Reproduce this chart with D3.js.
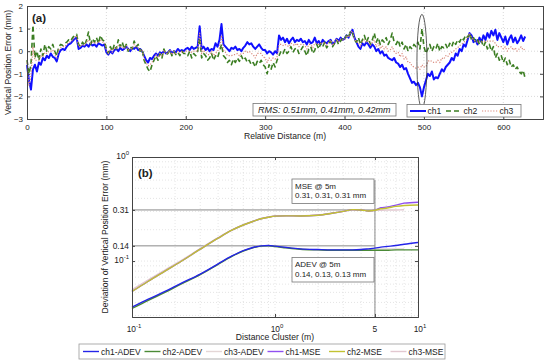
<!DOCTYPE html>
<html><head><meta charset="utf-8">
<script src="https://cdn.jsdelivr.net/npm/d3@7"></script>
<style>
body{margin:0;background:#fff;}
text{font-family:"Liberation Sans",Arial,sans-serif;fill:#222;}
</style></head><body><div id="chart"></div>
<script>
const WIDTH = 550, HEIGHT = 364;

// ---- panel (a): vertical position error, one value every 2.5 m
const STEP = 2.5
const ch1 = [
 -0.6,-1.3,-1.7,-0.8,-0.6,-0.9,-0.5,-0.6,-0.3,-0.4,-0.2,-0.3,-0.1,-0.25,-0.3,-0.45,-0.1,0.05,0.1,0.05,
 0.2,0.3,0.35,0.45,0.55,0.6,0.1,0.15,0.25,0.2,0.3,0.2,0.35,0.25,0.3,0.2,0.35,0.3,0.25,0.3,
 -0.05,-0.15,0.0,-0.1,0.05,0.1,0.0,0.15,0.05,0.1,0.2,0.1,0.0,0.15,0.1,0.2,0.05,0.1,0.0,-0.2,
 -0.4,-0.5,-0.3,-0.35,-0.2,-0.1,-0.2,-0.05,-0.1,0.0,-0.1,-0.05,0.05,-0.1,0.0,-0.05,0.1,0.0,0.05,0.0,
 0.1,0.15,0.05,0.2,0.1,0.15,0.2,1.1,0.1,0.2,0.05,0.15,0.0,0.1,0.05,0.35,0.2,0.5,1.2,0.3,
 0.2,0.1,0.0,0.15,0.1,0.2,0.05,0.1,0.0,0.15,0.25,0.4,0.3,0.35,0.2,0.1,0.2,0.3,0.15,0.05,
 0.05,-0.1,0.0,-0.05,-0.15,0.0,-0.1,0.7,0.5,0.6,0.4,0.55,0.35,0.5,0.6,0.4,0.5,0.45,0.55,0.4,
 0.45,0.3,0.5,0.35,0.4,0.6,0.35,0.45,0.3,0.5,0.4,0.35,0.45,0.5,0.3,0.4,0.55,0.45,0.6,0.5,
 0.55,0.7,0.6,0.8,0.95,0.6,0.4,0.2,0.1,0.35,0.25,0.4,0.3,0.15,0.3,0.2,0.0,0.1,-0.1,0.0,
 -0.2,-0.15,-0.3,-0.35,-0.4,-0.3,-0.5,-0.55,-0.7,-0.6,-0.8,-0.75,-1.0,-1.2,-1.4,-1.35,-1.5,-1.4,-1.6,-2.0,
 -1.6,-1.3,-1.0,-1.1,-0.9,-1.25,-1.15,-1.2,-1.0,-0.8,-0.9,-0.7,-0.6,-0.5,-0.3,-0.4,-0.1,-0.2,0.1,0.0,
 0.3,0.2,0.5,0.8,0.7,0.4,0.5,0.3,0.6,0.4,0.7,0.5,0.8,0.6,0.9,0.7,0.95,0.5,0.8,0.6,
 0.4,0.65,0.3,0.55,0.7,0.4,0.6,0.35,0.5,0.7,0.45,0.65]
const ch2 = [
 -0.4,-1.0,-0.6,1.15,-0.3,0.0,-0.4,0.1,-0.2,0.3,0.0,0.2,0.1,0.3,0.0,-0.2,0.2,0.3,0.25,0.35,
 0.4,0.5,0.45,0.6,0.7,0.75,0.3,0.2,0.4,0.25,0.5,0.85,0.3,0.55,0.4,0.6,0.35,0.7,0.5,0.45,
 0.1,-0.1,0.2,0.0,0.3,0.1,0.5,0.2,0.4,0.1,0.3,0.0,0.2,0.1,0.45,0.2,0.3,0.0,0.1,-0.4,
 -0.6,-0.8,-0.9,-0.6,-0.4,-0.2,-0.4,-0.1,-0.3,0.1,-0.15,-0.1,0.05,-0.2,0.0,-0.15,-0.05,-0.2,0.0,-0.1,
 -0.1,-0.2,0.0,-0.3,-0.1,-0.2,0.0,0.6,-0.3,-0.1,-0.2,-0.4,-0.3,-0.1,-0.4,-0.2,-0.3,0.0,0.3,-0.2,
 -0.3,-0.5,-0.4,-0.6,-0.35,-0.5,-0.3,-0.45,-0.2,-0.4,-0.3,-0.5,-0.4,-0.6,-0.5,-0.7,-0.45,-0.55,-0.4,-0.6,
 -0.7,-1.0,-0.6,-0.8,-0.5,-0.7,-0.4,-0.2,0.0,-0.1,0.1,-0.1,0.0,0.2,-0.05,0.1,0.15,-0.1,0.05,0.2,
 0.0,-0.2,0.1,0.2,-0.1,0.05,0.3,0.1,0.35,0.2,0.4,0.15,0.3,0.45,0.2,0.35,0.5,0.3,0.45,0.55,
 0.5,0.7,0.6,0.9,0.8,0.5,0.4,0.6,0.3,0.5,0.7,0.4,0.6,0.3,0.5,0.8,0.4,0.6,0.3,0.5,
 0.4,0.6,0.3,0.5,0.8,0.4,0.3,0.5,0.2,0.4,0.1,0.3,0.0,0.2,0.1,0.3,0.2,0.4,0.1,1.0,
 0.2,-0.1,0.1,0.3,0.0,0.2,0.1,0.35,0.0,0.2,0.15,0.3,0.1,0.35,0.2,0.45,0.3,0.5,0.4,0.6,
 0.5,0.7,0.6,0.8,0.5,0.6,0.4,0.5,0.3,0.45,0.2,0.4,0.1,0.3,0.0,0.2,-0.3,-0.1,-0.4,-0.2,
 -0.5,-0.3,-0.6,-0.4,-0.7,-0.6,-0.8,-0.7,-0.9,-1.0,-0.85,-1.2]
const ch3 = [
 -0.5,-1.5,-1.1,0.2,-0.4,-0.4,-0.4,-0.2,-0.25,-0.05,-0.1,0.0,0.0,0.05,-0.15,-0.3,0.05,0.15,0.2,0.2,
 0.3,0.4,0.4,0.5,0.6,0.7,0.2,0.2,0.3,0.25,0.4,0.5,0.35,0.4,0.35,0.4,0.35,0.5,0.4,0.4,
 0.05,-0.1,0.1,-0.05,0.15,0.1,0.25,0.2,0.2,0.1,0.25,0.05,0.1,0.1,0.3,0.2,0.15,0.05,0.05,-0.3,
 -0.5,-0.65,-0.6,-0.5,-0.3,-0.15,-0.3,-0.1,-0.2,0.05,-0.1,-0.1,0.05,-0.15,0.0,-0.1,0.0,-0.1,0.0,-0.05,
 0.0,0.0,0.0,-0.05,0.0,0.0,0.0,0.8,-0.1,0.05,-0.05,-0.15,-0.15,0.0,-0.2,-0.1,0.0,0.15,0.7,0.05,
 -0.05,-0.2,-0.2,-0.2,-0.15,-0.15,-0.1,-0.2,-0.1,-0.1,0.0,-0.05,0.0,-0.1,-0.15,-0.3,-0.1,-0.1,-0.1,-0.25,
 -0.3,-0.5,-0.3,-0.4,-0.3,-0.35,-0.25,0.3,0.3,0.25,0.3,0.25,0.2,0.35,0.3,0.25,0.35,0.2,0.3,0.3,
 0.25,0.1,0.3,0.3,0.15,0.35,0.35,0.3,0.35,0.35,0.4,0.25,0.4,0.5,0.25,0.4,0.55,0.4,0.55,0.5,
 0.5,0.7,0.6,0.85,0.9,0.55,0.4,0.4,0.2,0.45,0.5,0.4,0.45,0.25,0.4,0.5,0.2,0.35,0.1,0.25,
 0.1,0.2,0.0,0.05,0.2,0.0,-0.1,-0.05,-0.25,-0.1,-0.35,-0.25,-0.5,-0.5,-0.65,-0.7,-0.75,-0.7,-0.8,-0.6,
 -0.7,-0.7,-0.45,-0.4,-0.45,-0.5,-0.5,-0.4,-0.5,-0.3,-0.35,-0.2,-0.25,-0.1,-0.05,0.0,0.1,0.15,0.25,0.3,
 0.4,0.45,0.55,0.8,0.6,0.5,0.45,0.4,0.45,0.4,0.45,0.45,0.45,0.45,0.45,0.45,0.35,0.2,0.2,0.2,
 0.1,0.2,0.0,0.15,0.2,0.05,0.15,0.0,0.1,0.2,0.05,0.1]
const seriesA = ["ch1", "ch2", "ch3"]
const xTicksA = [0, 100, 200, 300, 400, 500, 600]
const yTicksA = [-3, -2, -1, 0, 1, 2]
const rmsLabel = "RMS: 0.51mm, 0.41mm, 0.42mm"
const circledAt = 497.5

// ---- panel (b): deviation vs distance cluster
const cluster = [0.1,0.13,0.17,0.22,0.3,0.4,0.5,0.6,0.7,0.8,0.9,1,1.2,1.5,2,2.5,3,3.5,4,4.5,5,5.5,6,7,8,10]
const adev1 = [0.036,0.043,0.051,0.061,0.075,0.094,0.112,0.126,0.135,0.140,0.141,0.139,0.135,0.131,0.129,0.128,0.128,0.128,0.129,0.131,0.133,0.136,0.138,0.141,0.145,0.151]
const adev2 = [0.035,0.042,0.050,0.060,0.074,0.093,0.111,0.125,0.134,0.139,0.140,0.138,0.134,0.130,0.128,0.127,0.127,0.127,0.127,0.127,0.127,0.127,0.127,0.128,0.128,0.128]
const adev3 = [0.0355,0.0425,0.0505,0.0605,0.0745,0.0935,0.1115,0.1255,0.1345,0.1395,0.1405,0.1385,0.1345,0.1305,0.1285,0.1275,0.1275,0.128,0.129,0.130,0.131,0.131,0.131,0.131,0.131,null]
const mse1 = [0.051,0.064,0.080,0.099,0.130,0.166,0.198,0.222,0.240,0.255,0.264,0.270,0.272,0.271,0.276,0.288,0.300,0.312,0.310,0.303,0.308,0.325,0.330,0.345,0.360,0.368]
const mse2 = [0.051,0.064,0.080,0.099,0.130,0.166,0.198,0.222,0.240,0.255,0.264,0.270,0.272,0.271,0.276,0.288,0.300,0.312,0.310,0.303,0.308,0.318,0.322,0.335,0.342,0.346]
const mse3 = [0.053,0.066,0.082,0.101,0.132,0.168,0.199,0.223,0.241,0.256,0.265,0.271,0.273,0.272,0.277,0.289,0.301,0.310,0.309,0.305,0.307,0.308,0.309,0.310,0.311,null]
const seriesB = ["ch1-ADEV", "ch2-ADEV", "ch3-ADEV", "ch1-MSE", "ch2-MSE", "ch3-MSE"]
const xTicksB = [0.1, 1, 5, 10]
const xLabelsB = [["10","-1"], ["10","0"], ["5",""], ["10","1"]]
const yTicksB = [1, 0.31, 0.14, 0.1]
const yLabelsB = [["10","0"], ["0.31",""], ["0.14",""], ["10","-1"]]
const markX = 5, markMSE = 0.31, markADEV = 0.14, markTop = 0.6
const mseNote = ["MSE @ 5m", "0.31, 0.31, 0.31 mm"]
const adevNote = ["ADEV @ 5m", "0.14, 0.13, 0.13 mm"]

const colorA = {ch1: "#1010ff", ch2: "#3b7d22", ch3: "#d9897c"}
const dashA = {ch1: null, ch2: "5,3", ch3: "1.2,1.6"}
const widthA = {ch1: 2, ch2: 1.6, ch3: 1.2}
const colorB = {"ch1-ADEV": "#2424e8", "ch2-ADEV": "#4a8a36", "ch3-ADEV": "#e4d6d6",
                "ch1-MSE": "#9050f0", "ch2-MSE": "#c2c232", "ch3-MSE": "#e2c8d0"}

const svg = d3.select("#chart").append("svg").attr("width", WIDTH).attr("height", HEIGHT)

// ================= panel (a)
const xA = d3.scaleLinear().domain([0, 650]).range([27, 543])
const yA = d3.scaleLinear().domain([-3, 2]).range([119, 6])
const gA = svg.append("g")

gA.append("rect").attr("x", xA(0)).attr("y", yA(2)).attr("width", xA(650) - xA(0)).attr("height", yA(-3) - yA(2)).attr("fill", "#fff")

// grid
gA.selectAll(".gx").data(xTicksA.slice(1)).enter().append("line")
  .attr("x1", d => xA(d)).attr("x2", d => xA(d)).attr("y1", yA(2)).attr("y2", yA(-3))
  .attr("stroke", "#c8c8c8").attr("stroke-width", 0.7).attr("stroke-dasharray", "1,2")
gA.selectAll(".gy").data(yTicksA.slice(1, -1)).enter().append("line")
  .attr("x1", xA(0)).attr("x2", xA(650)).attr("y1", d => yA(d)).attr("y2", d => yA(d))
  .attr("stroke", "#c8c8c8").attr("stroke-width", 0.7).attr("stroke-dasharray", "1,2")

const lineA = d3.line().x((d, i) => xA(i * STEP)).y(d => yA(d))
const dataA = {ch1: ch1, ch2: ch2, ch3: ch3}
seriesA.forEach(s => {
  gA.append("path").datum(dataA[s]).attr("d", lineA).attr("fill", "none")
    .attr("stroke", colorA[s]).attr("stroke-width", widthA[s])
    .attr("stroke-dasharray", dashA[s]).attr("stroke-linejoin", "round")
})

// circled dip
gA.append("ellipse").attr("cx", xA(circledAt)).attr("cy", yA(-0.45)).attr("rx", 5).attr("ry", 47)
  .attr("fill", "none").attr("stroke", "#333").attr("stroke-width", 0.8)

// axes
const axA_b = d3.axisBottom(xA).tickValues(xTicksA).tickSize(-3).tickPadding(5)
const axA_l = d3.axisLeft(yA).tickValues(yTicksA).tickSize(-3).tickPadding(4).tickFormat(d3.format("d"))
gA.append("g").attr("transform", "translate(0," + yA(-3) + ")").call(axA_b)
gA.append("g").attr("transform", "translate(" + xA(0) + ",0)").call(axA_l)
gA.append("g").attr("transform", "translate(0," + yA(2) + ")").call(d3.axisTop(xA).tickValues(xTicksA).tickSize(-3).tickFormat(""))
gA.append("g").attr("transform", "translate(" + xA(650) + ",0)").call(d3.axisRight(yA).tickValues(yTicksA).tickSize(-3).tickFormat(""))
gA.selectAll(".domain").attr("stroke", "#444")
gA.selectAll(".tick line").attr("stroke", "#444")
gA.selectAll(".tick text").attr("font-size", 8).attr("fill", "#222").attr("font-family", "Liberation Sans, Arial, sans-serif")

gA.append("text").attr("x", (xA(0) + xA(650)) / 2).attr("y", 139).attr("text-anchor", "middle").attr("font-size", 8.6).text("Relative Distance (m)")
gA.append("text").attr("transform", "rotate(-90)").attr("x", -(yA(2) + yA(-3)) / 2).attr("y", 11)
  .attr("text-anchor", "middle").attr("font-size", 8.6).text("Vertical Position Error (mm)")
gA.append("text").attr("x", 32).attr("y", 22).attr("font-size", 11.5).attr("font-weight", "bold").text("(a)")

// RMS box
gA.append("rect").attr("x", 253).attr("y", 103.5).attr("width", 143).attr("height", 12.5).attr("fill", "#fff").attr("stroke", "#777").attr("stroke-width", 0.8)
gA.append("text").attr("x", 258).attr("y", 112.5).attr("font-size", 9).attr("font-style", "italic").text(rmsLabel)

// legend (a)
const legA = gA.append("g").attr("transform", "translate(407,104.5)")
legA.append("rect").attr("width", 114).attr("height", 12.5).attr("fill", "#fff").attr("stroke", "#777").attr("stroke-width", 0.8)
seriesA.forEach((s, i) => {
  const row = legA.append("g").attr("transform", "translate(" + (3 + i * 36) + ",0)")
  row.append("line").attr("x1", 0).attr("x2", 16).attr("y1", 6.5).attr("y2", 6.5)
    .attr("stroke", colorA[s]).attr("stroke-width", widthA[s]).attr("stroke-dasharray", dashA[s])
  row.append("text").attr("x", 17.5).attr("y", 9.8).attr("font-size", 8.6).text(s)
})

// ================= panel (b)
const xB = d3.scaleLog().domain([0.1, 10]).range([132, 418])
const yB = d3.scaleLog().domain([0.029, 1]).range([317, 157])
const gB = svg.append("g")

// log grid
const minorX = []
;[0.1, 1].forEach(dec => { for (let k = 1; k <= 9; k++) minorX.push(dec * k) })
const minorY = []
;[0.01, 0.1].forEach(dec => { for (let k = 1; k <= 9; k++) { const v = dec * k; if (v > 0.029 && v < 1) minorY.push(v) } })
gB.selectAll(".mx").data(minorX.slice(1)).enter().append("line")
  .attr("x1", d => xB(d)).attr("x2", d => xB(d)).attr("y1", yB(1)).attr("y2", yB(0.029))
  .attr("stroke", "#d4d4d4").attr("stroke-width", 0.6).attr("stroke-dasharray", "1,2")
gB.selectAll(".my").data(minorY).enter().append("line")
  .attr("x1", xB(0.1)).attr("x2", xB(10)).attr("y1", d => yB(d)).attr("y2", d => yB(d))
  .attr("stroke", "#d4d4d4").attr("stroke-width", 0.6).attr("stroke-dasharray", "1,2")

// reference marks at 5 m
gB.append("line").attr("x1", xB(0.1)).attr("x2", xB(markX)).attr("y1", yB(markMSE)).attr("y2", yB(markMSE)).attr("stroke", "#8a8a8a").attr("stroke-width", 1)
gB.append("line").attr("x1", xB(0.1)).attr("x2", xB(markX)).attr("y1", yB(markADEV)).attr("y2", yB(markADEV)).attr("stroke", "#8a8a8a").attr("stroke-width", 1)
gB.append("line").attr("x1", xB(markX)).attr("x2", xB(markX)).attr("y1", yB(0.029)).attr("y2", yB(markTop)).attr("stroke", "#8a8a8a").attr("stroke-width", 1)

const lineB = d3.line().defined(d => d[1] != null).x(d => xB(d[0])).y(d => yB(d[1])).curve(d3.curveMonotoneX)
const dataB = {"ch1-ADEV": adev1, "ch2-ADEV": adev2, "ch3-ADEV": adev3, "ch1-MSE": mse1, "ch2-MSE": mse2, "ch3-MSE": mse3}
;["ch3-ADEV", "ch2-ADEV", "ch1-ADEV", "ch3-MSE", "ch1-MSE", "ch2-MSE"].forEach(s => {
  gB.append("path").datum(cluster.map((c, i) => [c, dataB[s][i]])).attr("d", lineB)
    .attr("fill", "none").attr("stroke", colorB[s]).attr("stroke-width", 1.4)
})

// notes
function note(lines, y0) {
  gB.append("rect").attr("x", 292).attr("y", y0).attr("width", 82).attr("height", 24.5).attr("fill", "#fff").attr("stroke", "#777").attr("stroke-width", 0.8)
  lines.forEach((t, i) => gB.append("text").attr("x", 295).attr("y", y0 + 9.5 + i * 9.5).attr("font-size", 8).text(t))
}
note(mseNote, 179)
note(adevNote, 257.5)

// axes
gB.append("g").attr("transform", "translate(0," + yB(0.029) + ")").call(d3.axisBottom(xB).tickValues(xTicksB).tickSize(-3).tickFormat(""))
gB.append("g").attr("transform", "translate(" + xB(0.1) + ",0)").call(d3.axisLeft(yB).tickValues(yTicksB).tickSize(-3).tickFormat(""))
gB.append("g").attr("transform", "translate(0," + yB(1) + ")").call(d3.axisTop(xB).tickValues(xTicksB).tickSize(-3).tickFormat(""))
gB.append("g").attr("transform", "translate(" + xB(10) + ",0)").call(d3.axisRight(yB).tickValues(yTicksB).tickSize(-3).tickFormat(""))
gB.selectAll(".domain").attr("stroke", "#444")
gB.selectAll(".tick line").attr("stroke", "#444")

function powLabel(g, lab, x, y, anchor) {
  const t = g.append("text").attr("x", x).attr("y", y).attr("text-anchor", anchor).attr("font-size", 8.4)
  t.append("tspan").text(lab[0])
  if (lab[1]) t.append("tspan").attr("dy", -4).attr("font-size", 6).text(lab[1])
}
xTicksB.forEach((v, i) => powLabel(gB, xLabelsB[i], xB(v) + (xLabelsB[i][1] ? 2 : 0), 331.5, "middle"))
yTicksB.forEach((v, i) => powLabel(gB, yLabelsB[i], xB(0.1) - 3, yB(v) + (yLabelsB[i][1] ? 1.5 : 3), "end"))

gB.append("text").attr("x", (xB(0.1) + xB(10)) / 2).attr("y", 340).attr("text-anchor", "middle").attr("font-size", 8.6).text("Distance Cluster (m)")
gB.append("text").attr("transform", "rotate(-90)").attr("x", -(yB(1) + yB(0.029)) / 2).attr("y", 108)
  .attr("text-anchor", "middle").attr("font-size", 8.6).text("Deviation of Vertical Position Error (mm)")
gB.append("text").attr("x", 138).attr("y", 177).attr("font-size", 11.5).attr("font-weight", "bold").text("(b)")

// legend (b)
const legB = svg.append("g").attr("transform", "translate(79,344)")
legB.append("rect").attr("width", 366).attr("height", 15).attr("fill", "#fff").attr("stroke", "#999").attr("stroke-width", 0.8)
seriesB.forEach((s, i) => {
  const row = legB.append("g").attr("transform", "translate(" + (4 + i * 61.5) + ",0)")
  row.append("line").attr("x1", 0).attr("x2", 16).attr("y1", 7.5).attr("y2", 7.5).attr("stroke", colorB[s]).attr("stroke-width", 1.4)
  row.append("text").attr("x", 18).attr("y", 10.5).attr("font-size", 8.5).text(s)
})
</script>
</body></html>
